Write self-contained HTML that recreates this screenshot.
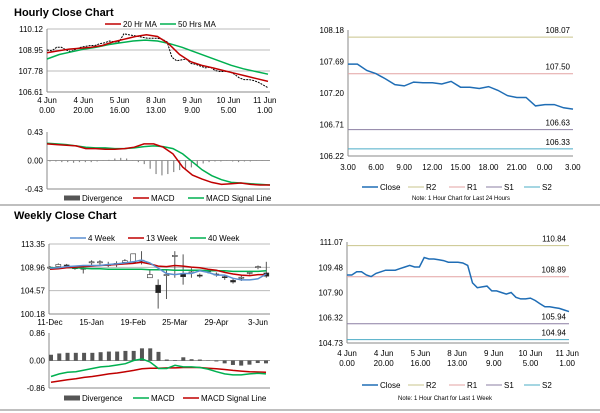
<!DOCTYPE html>
<html><head><meta charset="utf-8"><style>
body{margin:0;width:600px;height:413px;background:#fff;overflow:hidden;font-family:"Liberation Sans",sans-serif}
svg{position:absolute;left:0;top:0}
</style></head><body>
<svg id="s" width="600" height="413"></svg>
<script>
// ---- data ----
const hCloseWeek=[109.0,109.0,109.2,109.2,109.0,108.9,109.1,109.2,109.3,109.3,109.3,109.4,109.5,109.6,109.5,109.5,110.1,110.0,110.0,109.95,109.9,109.8,109.8,109.8,109.75,109.6,108.5,108.2,108.25,108.3,108.0,108.0,107.9,107.8,107.9,107.6,107.5,107.5,107.55,107.4,107.2,107.0,107.0,106.95,106.9,106.8,106.7];
const hCloseLeft=[108.95,108.9,109.1,109.1,108.95,108.85,109.0,109.1,109.15,109.2,109.2,109.3,109.35,109.45,109.4,109.4,109.85,109.8,109.75,109.7,109.65,109.6,109.6,109.6,109.55,109.4,108.55,108.35,108.4,108.45,108.2,108.15,108.05,107.95,108.0,107.8,107.75,107.75,107.75,107.6,107.4,107.3,107.3,107.25,107.15,107.0,106.85];
const hMA20=[108.8,108.9,109.0,109.05,109.1,109.2,109.4,109.55,109.7,109.8,109.7,109.3,108.7,108.3,108.1,107.95,107.8,107.65,107.5,107.35,107.2];
const hMA50=[108.45,108.7,108.85,109.0,109.1,109.25,109.35,109.45,109.5,109.45,109.3,109.1,108.85,108.6,108.35,108.1,107.9,107.75,107.6];
const hMacd=[0.25,0.24,0.23,0.22,0.18,0.18,0.17,0.17,0.18,0.2,0.25,0.25,0.2,0.1,-0.1,-0.22,-0.28,-0.33,-0.36,-0.35,-0.34,-0.36,-0.37,-0.37];
const hSignal=[0.26,0.25,0.24,0.22,0.2,0.19,0.19,0.18,0.18,0.19,0.21,0.22,0.21,0.18,0.1,-0.02,-0.14,-0.23,-0.29,-0.33,-0.34,-0.35,-0.36,-0.37];
const hDiv=[-0.01,-0.01,-0.02,-0.02,-0.03,-0.02,-0.02,-0.02,-0.01,0,0.01,0.03,0.04,0.03,0,-0.02,-0.05,-0.12,-0.2,-0.22,-0.2,-0.17,-0.14,-0.12,-0.1,-0.07,-0.04,-0.02,-0.01,-0.01,0,-0.01,-0.02,-0.01,-0.01,0,0,0];
const dayClose=[107.65,107.65,107.55,107.50,107.42,107.33,107.31,107.37,107.36,107.36,107.34,107.38,107.29,107.29,107.27,107.30,107.24,107.16,107.13,107.13,107.00,107.02,107.02,106.97,106.95];
const dayLevels=[108.07,107.50,106.63,106.33];
const weekLevels=[110.84,108.89,105.94,104.94];
const wOpen =[108.9,109.1,109.4,108.9,108.8,109.9,109.9,109.5,109.6,109.9,109.9,110.3,107.0,105.6,107.4,111.0,107.8,108.0,107.5,108.2,107.7,107.2,106.5,107.0,107.9,108.9,107.9];
const wClose=[109.0,109.5,109.3,108.7,108.6,110.0,110.0,109.4,109.7,110.2,111.5,110.2,107.6,104.2,107.6,111.2,107.2,108.1,107.4,108.3,107.6,107.1,106.2,107.1,108.0,109.1,107.3];
const wHigh =[109.2,109.7,109.6,109.3,109.2,110.3,110.3,110.0,110.1,110.5,111.5,112.0,108.5,106.7,108.6,112.0,111.4,108.8,107.8,108.6,108.0,107.5,106.8,107.5,108.3,109.3,110.0];
const wLow  =[108.7,108.9,109.1,108.5,107.8,109.3,109.5,109.0,109.0,109.6,109.8,109.5,107.0,101.2,103.0,107.0,105.7,107.0,107.0,107.8,107.2,106.6,105.9,106.4,107.6,108.6,107.0];
const w4=[108.8,108.9,109.1,109.2,109.3,109.3,109.3,109.5,109.6,109.8,110.0,110.3,109.8,108.8,107.8,107.6,107.8,107.8,108.3,108.0,107.5,107.5,106.9,106.6,106.6,106.8,107.7];
const w13=[108.6,108.7,108.9,109.0,109.1,109.2,109.3,109.4,109.5,109.6,109.7,109.9,109.6,109.2,109.1,109.3,109.2,109.0,108.9,108.6,108.4,108.0,107.7,107.5,107.4,107.6,107.6];
const w40=[108.9,108.9,108.9,108.9,108.8,108.7,108.7,108.6,108.6,108.6,108.6,108.6,108.5,108.5,108.5,108.4,108.4,108.4,108.4,108.3,108.3,108.3,108.2,108.2,108.2,108.2,108.3];
const wDiv=[0.18,0.22,0.24,0.24,0.24,0.24,0.26,0.28,0.28,0.30,0.30,0.38,0.38,0.27,0.03,0.01,0.10,0.04,0.03,0.0,-0.02,-0.08,-0.13,-0.15,-0.12,-0.07,-0.08];
const wMacd=[-0.5,-0.42,-0.37,-0.35,-0.3,-0.25,-0.2,-0.18,-0.14,-0.1,0.0,0.05,-0.05,-0.25,-0.25,-0.15,-0.2,-0.2,-0.22,-0.27,-0.35,-0.42,-0.45,-0.45,-0.42,-0.4,-0.42];
const wSignal=[-0.68,-0.64,-0.6,-0.57,-0.53,-0.5,-0.46,-0.42,-0.39,-0.35,-0.31,-0.26,-0.24,-0.24,-0.23,-0.23,-0.22,-0.22,-0.22,-0.24,-0.26,-0.28,-0.31,-0.33,-0.35,-0.36,-0.37];

const S=document.getElementById('s');const NS='http://www.w3.org/2000/svg';
function el(t,a,txt){const e=document.createElementNS(NS,t);for(const k in a)e.setAttribute(k,a[k]);if(txt!==undefined)e.textContent=txt;S.appendChild(e);return e;}
function lin(d0,d1,r0,r1){return v=>r0+(v-d0)/(d1-d0)*(r1-r0);}
function txt(x,y,s,anchor,size,name,bold){const e=el('text',{x:x,y:y,'font-size':size||8,'text-anchor':anchor||'start',fill:'#000','font-weight':bold?'bold':'normal'},s);

return e;}
function poly(arr,xf,yf,color,w,name){const p=arr.map((v,i)=>xf(i).toFixed(1)+','+yf(v).toFixed(1)).join(' ');const e=el('polyline',{points:p,fill:'none',stroke:color,'stroke-width':w||1.5});

return e;}
function hline(x0,x1,y,c,name,w){const e=el('line',{x1:x0,x2:x1,y1:y,y2:y,stroke:c,'stroke-width':w||1});

}
function axes(x0,x1,y0,y1,ticks,yf,grid,name){ticks.forEach(t=>{const y=yf(t);if(grid)hline(x0,x1,y,'#bbb','gridline');txt(x0-4,y+3,t.toFixed(2),'end',8,name+'-tick');});
hline(x0,x1,y1,'#888',name+'-x-axis');const e=el('line',{x1:x0,x2:x0,y1:y0,y2:y1,stroke:'#888'});

}
function legend(items,y){items.forEach(it=>{if(it.bar){const r=el('rect',{x:it.x,y:y-3.5,width:16,height:5,fill:'#555'});

}else hline(it.x,it.x+16,y-1,it.c,'legend-swatch',it.w||1.5);
txt(it.x+18,y+2,it.t,'start',8,'legend-entry');});}

txt(14,16,'Hourly Close Chart','start',11,'hourly-title',true);
txt(14,219,'Weekly Close Chart','start',11,'weekly-title',true);
hline(0,600,205,'#999','separator-top',1.2);
hline(0,600,410,'#999','separator-bottom',1.2);

// ---- hourly price ----
{const yf=lin(106.61,110.12,92,29);axes(47,270,29,92,[110.12,108.95,107.78,106.61],yf,true,'hourly-price');
const xl=[['4 Jun','0.00'],['4 Jun','20.00'],['5 Jun','16.00'],['8 Jun','13.00'],['9 Jun','9.00'],['10 Jun','5.00'],['11 Jun','1.00']];
xl.forEach((l,i)=>{const x=47+i*36.3;txt(x,103,l[0],'middle',8,'x-tick');txt(x,113,l[1],'middle',8,'x-tick');});
poly(hCloseLeft,lin(0,hCloseLeft.length-1,47,268),yf,'#000',1,'hourly-close-line').setAttribute('stroke-dasharray','2,1');
poly(hMA50,lin(0,hMA50.length-1,47,268),yf,'#00b050',1.5,'ma50-line');
poly(hMA20,lin(0,hMA20.length-1,47,268),yf,'#c00000',1.5,'ma20-line');
legend([{x:105,c:'#c00000',t:'20 Hr MA'},{x:160,c:'#00b050',t:'50 Hrs MA'}],25);}
// ---- hourly macd ----
{const yf=lin(-0.43,0.43,189,132);axes(47,270,132,189,[0.43,0,-0.43],yf,false,'hourly-macd');hline(47,270,yf(0),'#999','zero-line');
const xd=lin(0,hDiv.length-1,50,268);hDiv.forEach((v,i)=>{const r=el('rect',{x:xd(i)-0.6,y:Math.min(yf(0),yf(v)),width:1.2,height:Math.abs(yf(v)-yf(0))+0.3,fill:'#888'});

});
poly(hSignal,lin(0,hSignal.length-1,47,270),yf,'#00b050',1.5,'macd-signal-line');
poly(hMacd,lin(0,hMacd.length-1,47,270),yf,'#c00000',1.5,'macd-line');
legend([{x:64,bar:1,t:'Divergence'},{x:133,c:'#c00000',t:'MACD'},{x:188,c:'#00b050',t:'MACD Signal Line'}],199);}

function pivot(x0,x1,yTop,yBot,ticks,levels,close,name){const yf=lin(ticks[ticks.length-1],ticks[0],yBot,yTop);axes(x0,x1,yTop,yBot,ticks,yf,false,name);
const cols=['#c9c48c','#e3a3a3','#8b7fa3','#4bacc6'];levels.forEach((v,i)=>{hline(x0,x1,yf(v),cols[i],'level-'+['r2','r1','s1','s2'][i]);txt(x1-3,yf(v)-4,v.toFixed(2),'end',8,'level-label');});
poly(close,lin(0,close.length-1,x0,x1),yf,'#1f6db5',1.5,name+'-close-line');}
{pivot(348,573,30,156,[108.18,107.69,107.20,106.71,106.22],dayLevels,dayClose,'daily');
['3.00','6.00','9.00','12.00','15.00','18.00','21.00','0.00','3.00'].forEach((l,i)=>txt(348+i*28.1,170,l,'middle',8,'x-tick'));
legend([{x:362,c:'#1f6db5',t:'Close'},{x:408,c:'#c9c48c',t:'R2',w:1},{x:449,c:'#e3a3a3',t:'R1',w:1},{x:486,c:'#8b7fa3',t:'S1',w:1},{x:524,c:'#4bacc6',t:'S2',w:1}],188);
txt(461,200,'Note: 1 Hour Chart for Last 24 Hours','middle',6,'daily-note');}
{pivot(347,569,242,343,[111.07,109.48,107.90,106.32,104.73],weekLevels,hCloseWeek,'weekly-hourly');
[['4 Jun','0.00'],['4 Jun','20.00'],['5 Jun','16.00'],['8 Jun','13.00'],['9 Jun','9.00'],['10 Jun','5.00'],['11 Jun','1.00']].forEach((l,i)=>{const x=347+i*36.7;txt(x,356,l[0],'middle',8,'x-tick');txt(x,366,l[1],'middle',8,'x-tick');});
legend([{x:362,c:'#1f6db5',t:'Close'},{x:408,c:'#c9c48c',t:'R2',w:1},{x:449,c:'#e3a3a3',t:'R1',w:1},{x:486,c:'#8b7fa3',t:'S1',w:1},{x:524,c:'#4bacc6',t:'S2',w:1}],386);
txt(445,400,'Note: 1 Hour Chart for Last 1 Week','middle',6,'weekly-note');}

{const yf=lin(100.18,113.35,314,244);axes(49,270,244,314,[113.35,108.96,104.57,100.18],yf,true,'weekly-price');
const xf=lin(0,25,50,258);
['11-Dec','15-Jan','19-Feb','25-Mar','29-Apr','3-Jun'].forEach((l,i)=>txt(xf(i*5),325,l,'middle',8,'x-tick'));
wOpen.forEach((o,i)=>{const c=wClose[i],x=xf(i);const w=el('line',{x1:x,x2:x,y1:yf(wHigh[i]),y2:yf(wLow[i]),stroke:'#555'});


const r=el('rect',{x:x-2.5,y:yf(Math.max(o,c)),width:5,height:Math.max(1,Math.abs(yf(o)-yf(c))),fill:c>=o?'#fff':'#222',stroke:'#333','stroke-width':0.6});

});
poly(w40,xf,yf,'#00b050',1.5,'ma40-week-line');poly(w13,xf,yf,'#c00000',1.5,'ma13-week-line');poly(w4,xf,yf,'#5b8fd0',1.5,'ma4-week-line');
legend([{x:70,c:'#5b8fd0',t:'4 Week'},{x:128,c:'#c00000',t:'13 Week'},{x:190,c:'#00b050',t:'40 Week'}],239);}
{const yf=lin(-0.86,0.86,388,333);axes(49,270,333,388,[0.86,0,-0.86],yf,false,'weekly-macd');hline(49,270,yf(0),'#999','zero-line');
const xf=lin(0,26,51,266);
wDiv.forEach((v,i)=>{const r=el('rect',{x:xf(i)-2,y:Math.min(yf(0),yf(v)),width:4,height:Math.abs(yf(v)-yf(0))+0.3,fill:'#555'});

});
poly(wSignal,xf,yf,'#c00000',1.5,'weekly-signal-line');poly(wMacd,xf,yf,'#00b050',1.5,'weekly-macd-line');
legend([{x:64,bar:1,t:'Divergence'},{x:133,c:'#00b050',t:'MACD'},{x:183,c:'#c00000',t:'MACD Signal Line'}],399);}
</script>
</body></html>
